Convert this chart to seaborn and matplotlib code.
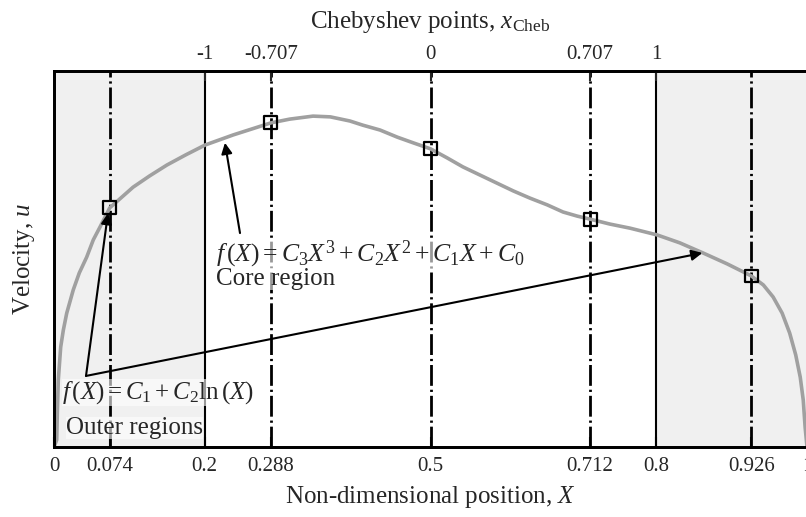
import matplotlib
matplotlib.use("Agg")
import matplotlib.pyplot as plt
import seaborn as sns
import pandas as pd

# ---- data ----
X_curve = [0.0, 0.0036, 0.0044, 0.0057, 0.0089, 0.0124, 0.0169, 0.0256, 0.0336, 0.0434,
           0.0522, 0.0611, 0.074, 0.105, 0.127, 0.150, 0.175, 0.2005, 0.238, 0.263,
           0.288, 0.313, 0.344, 0.367, 0.393, 0.410, 0.433, 0.456, 0.477, 0.5,
           0.522, 0.543, 0.566, 0.588, 0.610, 0.632, 0.655, 0.676, 0.695, 0.712,
           0.738, 0.765, 0.801, 0.831, 0.862, 0.894, 0.926, 0.942, 0.955, 0.967,
           0.977, 0.985, 0.991, 0.995, 0.9975, 1.0]
u_curve = [0.0, 0.019, 0.090, 0.178, 0.266, 0.311, 0.356, 0.418, 0.463, 0.505,
           0.551, 0.585, 0.636, 0.691, 0.721, 0.750, 0.777, 0.803, 0.830, 0.846,
           0.862, 0.872, 0.880, 0.878, 0.867, 0.856, 0.843, 0.824, 0.809, 0.793,
           0.769, 0.745, 0.723, 0.702, 0.681, 0.662, 0.644, 0.625, 0.614, 0.606,
           0.593, 0.582, 0.564, 0.543, 0.516, 0.487, 0.455, 0.431, 0.399, 0.356,
           0.303, 0.245, 0.186, 0.125, 0.053, 0.0]

cheb_X = [0.074, 0.288, 0.5, 0.712, 0.926]
cheb_u = [0.636, 0.862, 0.793, 0.606, 0.455]

bottom_ticks = [0, 0.074, 0.2, 0.288, 0.5, 0.712, 0.8, 0.926, 1]
bottom_labels = ["0", "0.074", "0.2", "0.288", "0.5", "0.712", "0.8", "0.926", "1"]
top_ticks = [0.2, 0.288, 0.5, 0.712, 0.8]
top_labels = ["-1", "-0.707", "0", "0.707", "1"]

outer_spans = [(0.0, 0.2), (0.8, 1.0)]
boundaries = [0.2, 0.8]

curve_df = pd.DataFrame({"X": X_curve, "u": u_curve})
cheb_df = pd.DataFrame({"X": cheb_X, "u": cheb_u})

# ---- style ----
sns.set_style("ticks")
plt.rcParams["font.family"] = ["Liberation Serif", "DejaVu Serif"]
plt.rcParams["mathtext.fontset"] = "custom"
plt.rcParams["mathtext.rm"] = "Liberation Serif"
plt.rcParams["mathtext.it"] = "Liberation Serif:italic"
plt.rcParams["mathtext.bf"] = "Liberation Serif:bold"

fig = plt.figure(figsize=(8.06, 5.17), dpi=100)
ax = fig.add_axes([54 / 806, 70 / 517, 753 / 806, 376 / 517])

for a, b in outer_spans:
    ax.axvspan(a, b, color="#f0f0f0", zorder=0, lw=0)
for b in boundaries:
    ax.axvline(b, color="black", lw=1.5, zorder=1)
for x in cheb_X:
    ax.axvline(x, color="black", lw=2.0, ls=(0, (7.5, 1.4, 0.8, 1.4)), zorder=1)

sns.lineplot(data=curve_df, x="X", y="u", ax=ax, color="#a0a0a0", lw=2.6,
             sort=False, estimator=None, zorder=3,
             solid_joinstyle="round", solid_capstyle="round")
sns.scatterplot(data=cheb_df, x="X", y="u", ax=ax, marker="s", s=85,
                edgecolor="black", linewidth=1.6, zorder=5)
ax.collections[-1].set_facecolor("none")

ax.set_xlim(0, 1)
ax.set_ylim(0, 1)
ax.set_yticks([])
ax.set_xticks(bottom_ticks, bottom_labels)
ax.tick_params(axis="x", direction="in", length=7, width=1.5, labelsize=15, pad=7)
ax.set_xlabel("Non-dimensional position, $X$", fontsize=18, labelpad=6)
ax.set_ylabel("Velocity, $u$", fontsize=18, labelpad=12)

ax2 = ax.twiny()
ax2.set_xlim(0, 1)
ax2.set_xticks(top_ticks, top_labels)
ax2.tick_params(axis="x", direction="in", length=7, width=1.5, labelsize=15, pad=5)
ax2.set_xlabel("Chebyshev points, $x_{\\rm Cheb}$", fontsize=18, labelpad=12)

for a in (ax, ax2):
    for s in a.spines.values():
        s.set_linewidth(2.0)
        s.set_color("black")
        s.set_zorder(6)

# ---- annotations ----
tb = dict(facecolor="white", alpha=0.6, edgecolor="none", pad=0)
ax.text(0.215, 0.513, "$f\\,(X) = C_3X^3 + C_2X^2 + C_1X + C_0$", fontsize=18.5,
        va="center", ha="left", bbox=tb, zorder=4)
ax.text(0.215, 0.447, "Core region", fontsize=18, va="center", ha="left", bbox=tb, zorder=4)
ax.text(0.0106, 0.144, "$f\\,(X) = C_1 + C_2\\mathrm{ln}\\,(X)$", fontsize=18,
        va="center", ha="left", bbox=tb, zorder=4)
ax.text(0.016, 0.050, "Outer regions", fontsize=18, va="center", ha="left", bbox=tb, zorder=4)

arrow = dict(arrowstyle="-|>", color="black", lw=1.5, mutation_scale=16, shrinkA=0, shrinkB=0)
ax.annotate("", xy=(0.227, 0.809), xytext=(0.247, 0.569), arrowprops=arrow, zorder=4)
ax.annotate("", xy=(0.0717, 0.622), xytext=(0.0425, 0.189), arrowprops=arrow, zorder=4)
ax.annotate("", xy=(0.861, 0.516), xytext=(0.0425, 0.189), arrowprops=arrow, zorder=4)

fig.savefig("out.png", dpi=100)
